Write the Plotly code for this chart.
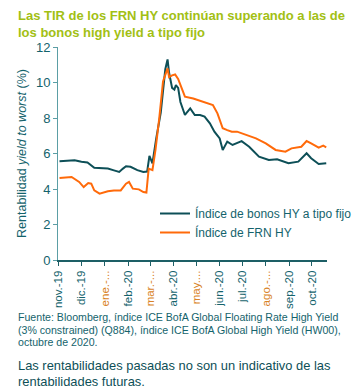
import plotly.graph_objects as go

# Fixed-rate HY index (teal)
fixed_dates = ["2019-11-02","2019-11-11","2019-11-22","2019-12-01","2019-12-09","2019-12-18","2019-12-27",
               "2020-01-05","2020-01-13","2020-01-20","2020-01-25","2020-01-29","2020-02-04","2020-02-10",
               "2020-02-13","2020-02-21","2020-02-26","2020-02-29","2020-03-04","2020-03-09","2020-03-15",
               "2020-03-21","2020-03-24","2020-03-26","2020-03-30","2020-04-02","2020-04-04","2020-04-07",
               "2020-04-10","2020-04-16","2020-04-23","2020-04-29","2020-05-06","2020-05-12","2020-05-19",
               "2020-05-25","2020-06-01","2020-06-05","2020-06-11","2020-06-18","2020-06-30","2020-07-10",
               "2020-07-23","2020-08-05","2020-08-16","2020-08-31","2020-09-13","2020-09-24","2020-09-30",
               "2020-10-10","2020-10-20"]
fixed_vals = [5.57,5.58,5.62,5.53,5.50,5.20,5.17,
              5.15,5.05,4.96,5.15,5.28,5.25,5.10,
              5.06,4.96,4.98,5.87,5.45,6.85,8.30,
              10.75,11.30,10.55,9.70,9.60,9.85,9.70,
              8.90,8.17,8.54,8.17,8.17,8.08,7.70,
              7.23,6.85,6.20,6.67,6.48,6.70,6.38,
              5.82,5.63,5.67,5.45,5.54,6.01,5.73,
              5.41,5.45]

# FRN HY index (orange)
frn_dates = ["2019-11-02","2019-11-18","2019-11-28","2019-12-04","2019-12-10","2019-12-14","2019-12-18",
             "2019-12-25","2020-01-05","2020-01-13","2020-01-22","2020-01-29","2020-02-02","2020-02-07",
             "2020-02-15","2020-02-21","2020-02-25","2020-02-28","2020-03-04","2020-03-08","2020-03-13",
             "2020-03-18","2020-03-24","2020-03-26","2020-03-30","2020-04-03","2020-04-07","2020-04-10",
             "2020-04-16","2020-04-27","2020-05-10","2020-05-23","2020-05-29","2020-06-05","2020-06-11",
             "2020-06-17","2020-06-24","2020-07-06","2020-07-19","2020-08-01","2020-08-14","2020-08-27",
             "2020-09-04","2020-09-17","2020-09-24","2020-09-30","2020-10-10","2020-10-16","2020-10-20"]
frn_vals = [4.62,4.68,4.40,4.11,4.34,4.30,3.92,
            3.74,3.87,3.92,3.92,4.30,4.40,4.02,
            3.98,3.83,3.80,5.15,5.06,6.20,7.98,
            10.06,10.80,10.30,10.40,10.45,10.20,9.86,
            9.20,9.10,8.92,8.73,8.26,7.42,7.32,
            7.23,7.23,7.04,6.85,6.57,6.20,6.10,
            6.29,6.38,6.70,6.57,6.33,6.44,6.35]

month_ticks = ["2019-11-01","2019-12-01","2020-01-01","2020-02-01","2020-03-01","2020-04-01",
               "2020-05-01","2020-06-01","2020-07-01","2020-08-01","2020-09-01","2020-10-01"]
month_labels = ["nov.-19","dic.-19","ene.-...","feb.-20","mar.-...","abr.-20",
                "may....","jun.-20","jul.-20","ago.-...","sep.-20","oct.-20"]

title_lines = ["Las TIR de los FRN HY continúan superando a las de",
               "los bonos high yield a tipo fijo"]
source_lines = ["Fuente: Bloomberg, índice ICE BofA Global Floating Rate High Yield",
                "(3% constrained) (Q884), índice ICE BofA Global High Yield (HW00),",
                "octubre de 2020."]
note_lines = ["Las rentabilidades pasadas no son un indicativo de las",
              "rentabilidades futuras."]

TEAL = "#0d4f57"
ORANGE = "#ff6a0a"
TXT = "#14636c"
GREEN = "#a2c014"
HILITE = "#d98326"
FONT = "Liberation Sans, Arial"

def fmt(lbl):
    if lbl.endswith("..."):
        return '<span style="color:%s">%s</span>' % (HILITE, lbl)
    return lbl

fig = go.Figure()
fig.add_trace(go.Scatter(x=fixed_dates, y=fixed_vals, mode="lines",
                         name="Índice de bonos HY a tipo fijo",
                         line=dict(color=TEAL, width=2)))
fig.add_trace(go.Scatter(x=frn_dates, y=frn_vals, mode="lines",
                         name="Índice de FRN HY",
                         line=dict(color=ORANGE, width=2)))

OFF = 8  # default page body margin
W, H = 362 - OFF, 391 - OFF
L, R, T, B = 58 - OFF, 327 - OFF, 47 - OFF, 260 - OFF
def px(x): return (x - OFF - L) / (R - L)
def py(y): return (B - (y - OFF)) / (B - T)

fig.update_layout(
    width=W, height=H,
    margin=dict(l=L, r=W - R, t=T, b=H - B, autoexpand=False),
    paper_bgcolor="white", plot_bgcolor="white",
    font=dict(family=FONT, color=TXT, size=11),
    showlegend=True,
    legend=dict(x=px(155), y=py(199), xanchor="left", yanchor="top",
                bgcolor="rgba(0,0,0,0)", font=dict(size=12, color=TXT),
                tracegroupgap=2, itemwidth=30),
    xaxis=dict(type="date", range=["2019-10-31", "2020-10-21"],
               tickvals=month_ticks, ticktext=[fmt(t) for t in month_labels],
               tickangle=-90, showgrid=False, zeroline=False,
               showline=True, linecolor="#1d5f66", linewidth=2,
               ticks="outside", ticklen=4, tickcolor="#1d5f66",
               tickfont=dict(size=11.5, color=TXT)),
    yaxis=dict(range=[0, 12], tickvals=[0, 2, 4, 6, 8, 10, 12],
               showgrid=False, zeroline=False,
               showline=True, linecolor="#5b9ea5", linewidth=1,
               ticks="outside", ticklen=4, tickcolor="#5b9ea5",
               tickfont=dict(size=13, color=TXT),
               title=dict(text="Rentabilidad <i>yield to worst</i> (%)",
                          font=dict(size=12.5, color=TXT), standoff=6)),
)

def add_lines(lines, x, y0, dy, size, color, bold=False):
    for i, t in enumerate(lines):
        fig.add_annotation(xref="paper", yref="paper", x=px(x), y=py(y0 + i * dy),
                           xanchor="left", yanchor="middle", align="left", showarrow=False,
                           borderpad=0,
                           text=("<b>%s</b>" % t) if bold else t,
                           font=dict(size=size, color=color, family=FONT))

add_lines(title_lines, 17, 15, 17, 13, GREEN, bold=True)
add_lines(source_lines, 17, 317, 12.5, 10.6, TXT)
add_lines(note_lines, 17, 365, 16.5, 12.9, TEAL)

fig.write_html("out.html")
